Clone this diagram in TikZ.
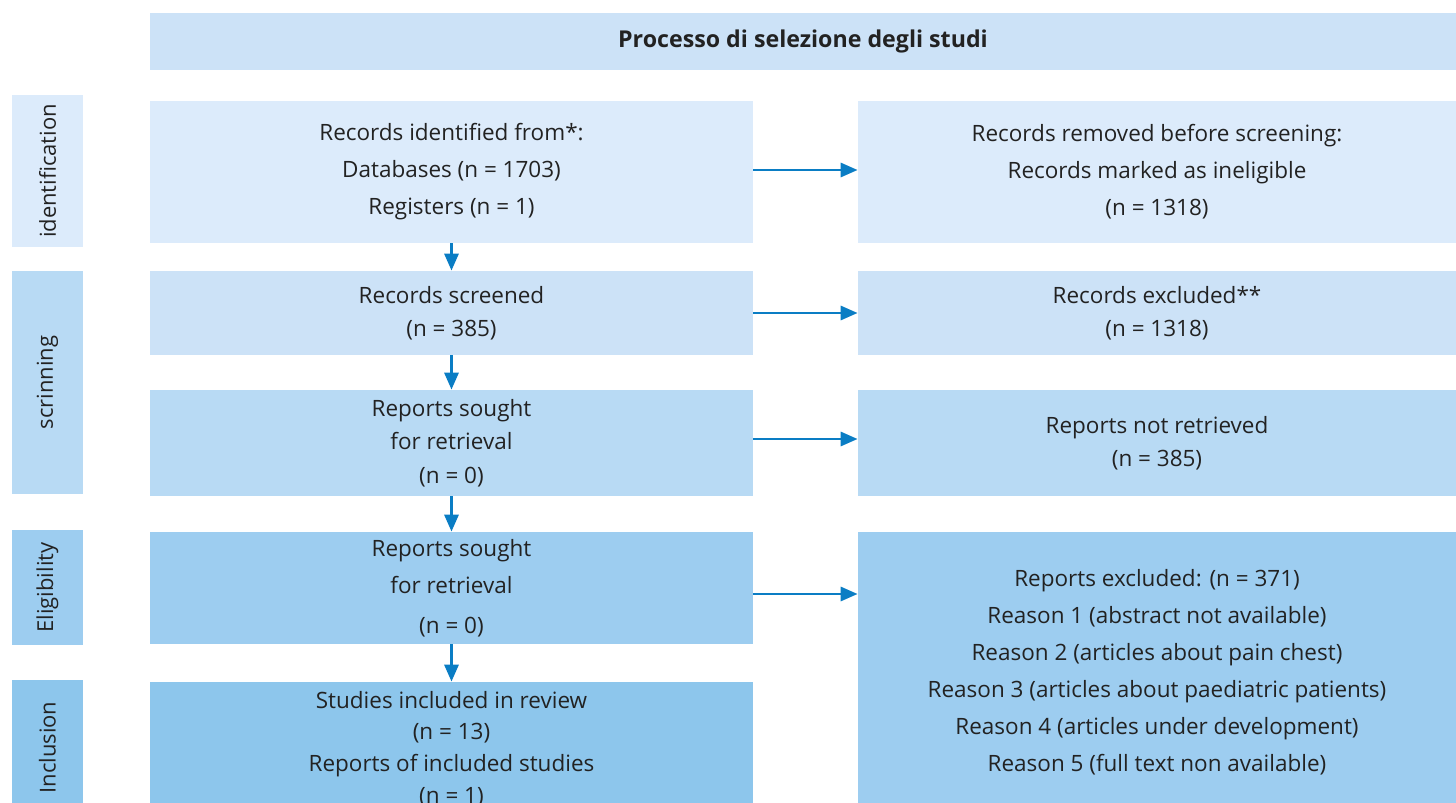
\documentclass[tikz,border=0pt]{standalone}
\usepackage{fontspec}
\setmainfont{Open Sans}
\usetikzlibrary{arrows.meta, positioning}
\definecolor{stepA}{HTML}{DCEBFB}
\definecolor{stepB}{HTML}{CCE2F7}
\definecolor{stepC}{HTML}{B8DAF4}
\definecolor{stepD}{HTML}{9DCDF0}
\definecolor{stepE}{HTML}{8DC6EC}
\definecolor{arrowblue}{HTML}{0A7DC4}
\definecolor{txtgray}{HTML}{222222}

\begin{document}
\begin{tikzpicture}[
	box/.style={inner sep=0pt, align=center, minimum width=#1, text=txtgray},
	leftbox/.style={box=12.06cm},
	rightbox/.style={box=11.96cm},
	phase/.style={rotate=90, inner sep=0pt, minimum height=1.42cm, text=txtgray, font=\fontsize{12.5}{15}\selectfont},
	flow/.style={draw=arrowblue, line width=1.7pt, -{Triangle[length=3.4mm,width=2.8mm]}}
	]
	\useasboundingbox (0,0) rectangle (29.12,-16.06);

	% title
	\node[box=26.12cm, fill=stepB, minimum height=1.14cm, font=\fontsize{13.2}{16}\selectfont\bfseries] (title) at (16.06,-0.83) {Processo di selezione degli studi};

	% phases
	\node[phase, fill=stepA, minimum width=3.04cm] (pid) at (0.95,-3.42) {identification};
	\node[phase, fill=stepC, minimum width=4.46cm] (pscr) at (0.95,-7.65) {scrinning};
	\node[phase, fill=stepD, minimum width=2.30cm] (pelig) at (0.95,-11.75) {Eligibility};
	\node[phase, fill=stepE, minimum width=2.70cm] (pinc) at (0.95,-14.95) {Inclusion};

	% left column
	\node[leftbox, fill=stepA, minimum height=2.84cm, font=\fontsize{12.8}{21}\selectfont] (ident) at (9.03,-3.44)
		{Records identified from*:\\Databases (n = 1703)\\Registers (n = 1)};
	\node[leftbox, fill=stepB, minimum height=1.68cm, font=\fontsize{12.8}{19}\selectfont] (screen) at (9.03,-6.26)
		{Records screened\\(n = 385)};
	\node[leftbox, fill=stepC, minimum height=2.12cm, font=\fontsize{12.8}{19}\selectfont] (sought) at (9.03,-8.86)
		{Reports sought\\for retrieval\\(n = 0)};
	\node[leftbox, fill=stepD, minimum height=2.24cm, font=\fontsize{12.8}{21}\selectfont] (assess) at (9.03,-11.76)
		{Reports sought\\for retrieval\\[2pt](n = 0)};
	\node[leftbox, fill=stepE, minimum height=2.68cm, font=\fontsize{12.8}{18}\selectfont] (incl) at (9.03,-14.98)
		{Studies included in review\\(n = 13)\\Reports of included studies\\(n = 1)};

	% right column
	\node[rightbox, fill=stepA, minimum height=2.84cm, font=\fontsize{12.8}{21}\selectfont] (removed) at (23.14,-3.44)
		{Records removed before screening:\\Records marked as ineligible\\(n = 1318)};
	\node[rightbox, fill=stepB, minimum height=1.68cm, font=\fontsize{12.8}{19}\selectfont] (excl) at (23.14,-6.26)
		{Records excluded**\\(n = 1318)};
	\node[rightbox, fill=stepC, minimum height=2.12cm, font=\fontsize{12.8}{19}\selectfont] (notret) at (23.14,-8.86)
		{Reports not retrieved\\(n = 385)};
	\node[rightbox, fill=stepD, minimum height=5.60cm, font=\fontsize{12.8}{21}\selectfont] (reasons) at (23.14,-13.44)
		{Reports excluded: (n = 371)\\Reason 1 (abstract not available)\\Reason 2 (articles about pain chest)\\Reason 3 (articles about paediatric patients)\\Reason 4 (articles under development)\\Reason 5 (full text non available)};

	% arrows
	\draw[flow] ([yshift=0.04cm]ident.east) -- ([yshift=0.04cm]ident.east -| removed.west);
	\draw[flow] (screen) -- (excl);
	\draw[flow] ([yshift=0.08cm]sought.east) -- ([yshift=0.08cm]sought.east -| notret.west);
	\draw[flow] ([yshift=-0.12cm]assess.east) -- ([yshift=-0.12cm]assess.east -| reasons.west);

	\draw[flow] (ident) -- (screen);
	\draw[flow] (screen) -- (sought);
	\draw[flow] (sought) -- (assess);
	\draw[flow] (assess) -- (incl);
\end{tikzpicture}
\end{document}
